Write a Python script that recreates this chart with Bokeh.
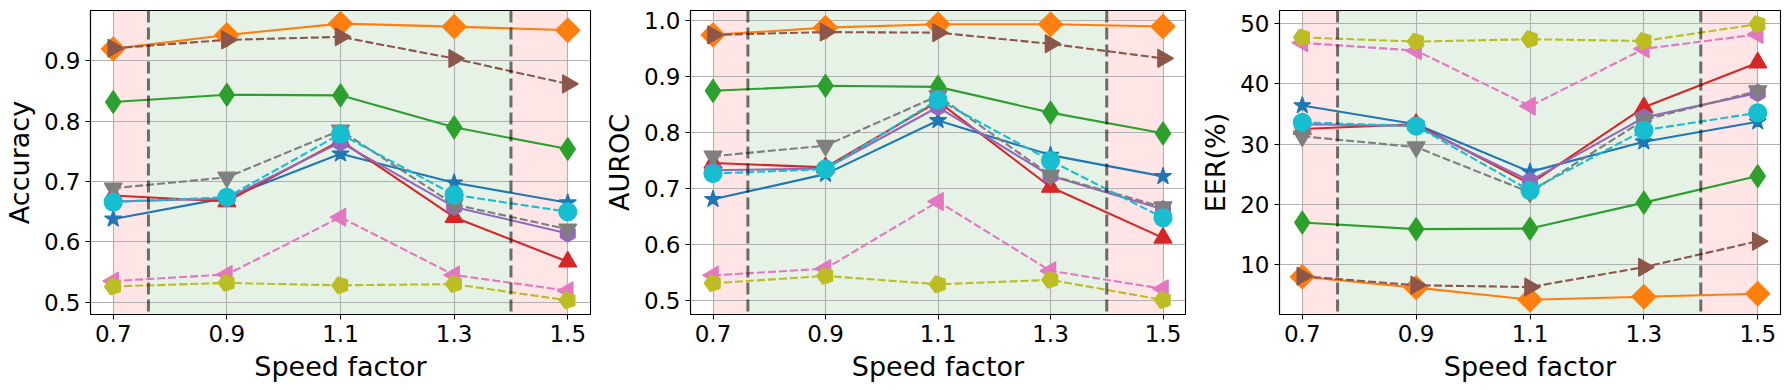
import math
from bokeh.plotting import figure
from bokeh.layouts import row
from bokeh.models import Range1d, FixedTicker, BoxAnnotation, Span, PrintfTickFormatter
from bokeh.embed import file_html
from bokeh.resources import INLINE

# ---------------- data ----------------
speed = [0.7, 0.9, 1.1, 1.3, 1.5]
x_ticks = [0.7, 0.9, 1.1, 1.3, 1.5]

acc_blue = [0.638, 0.673, 0.746, 0.698, 0.665]
acc_orange = [0.920, 0.943, 0.962, 0.957, 0.951]
acc_green = [0.832, 0.844, 0.843, 0.790, 0.754]
acc_red = [0.677, 0.667, 0.768, 0.641, 0.567]
acc_purple = [0.667, 0.672, 0.765, 0.658, 0.614]
acc_brown = [0.921, 0.935, 0.940, 0.904, 0.862]
acc_pink = [0.535, 0.546, 0.641, 0.545, 0.519]
acc_gray = [0.689, 0.707, 0.785, 0.662, 0.621]
acc_olive = [0.526, 0.532, 0.528, 0.530, 0.503]
acc_cyan = [0.666, 0.674, 0.779, 0.678, 0.650]

auc_blue = [0.681, 0.726, 0.822, 0.760, 0.722]
auc_orange = [0.975, 0.988, 0.994, 0.994, 0.990]
auc_green = [0.875, 0.884, 0.882, 0.836, 0.799]
auc_red = [0.746, 0.738, 0.856, 0.703, 0.612]
auc_purple = [0.733, 0.736, 0.846, 0.723, 0.663]
auc_brown = [0.975, 0.980, 0.979, 0.959, 0.933]
auc_pink = [0.545, 0.557, 0.677, 0.553, 0.521]
auc_gray = [0.758, 0.777, 0.866, 0.724, 0.667]
auc_olive = [0.531, 0.544, 0.529, 0.537, 0.501]
auc_cyan = [0.727, 0.735, 0.859, 0.750, 0.648]

eer_blue = [36.4, 33.3, 25.4, 30.4, 33.7]
eer_orange = [8.0, 6.2, 4.2, 4.7, 5.2]
eer_green = [17.0, 15.9, 16.0, 20.3, 24.7]
eer_red = [32.5, 33.3, 23.4, 36.1, 43.5]
eer_purple = [33.3, 33.0, 23.9, 34.4, 38.5]
eer_brown = [8.1, 6.6, 6.3, 9.6, 13.9]
eer_pink = [46.8, 45.5, 36.3, 45.8, 48.2]
eer_gray = [31.3, 29.5, 22.0, 34.0, 38.8]
eer_olive = [47.7, 47.0, 47.4, 47.1, 49.9]
eer_cyan = [33.6, 33.0, 22.3, 32.3, 35.2]

acc_ticks = [0.5, 0.6, 0.7, 0.8, 0.9]
auc_ticks = [0.5, 0.6, 0.7, 0.8, 0.9, 1.0]
eer_ticks = [10, 20, 30, 40, 50]

# region boundaries (speed factor)
red_left = (0.7, 0.762)
green_mid = (0.762, 1.4)
red_right = (1.4, 1.5)
boundaries = [0.762, 1.4]

# ---------------- styles ----------------
FONT = "DejaVu Sans"
styles = [
    # key, color, marker, size, angle, dashed
    ("blue", "#1f77b4", "star", 18, 0.0, False),
    ("orange", "#ff7f0e", "square", 17, math.pi / 4, False),
    ("green", "#2ca02c", "diamond", 23, 0.0, False),
    ("red", "#d62728", "triangle", 18, 0.0, False),
    ("purple", "#9467bd", "hex", 17, math.pi / 2, False),
    ("brown", "#8c564b", "triangle", 18, -math.pi / 2, True),
    ("pink", "#e377c2", "triangle", 18, math.pi / 2, True),
    ("gray", "#7f7f7f", "inverted_triangle", 18, 0.0, True),
    ("olive", "#bcbd22", "pentagon", 8.8, 0.0, True),
    ("cyan", "#17becf", "circle", 18, 0.0, True),
]

panels = [
    ("Accuracy", (0.4796, 0.9837), acc_ticks, "%.1f",
     dict(blue=acc_blue, orange=acc_orange, green=acc_green, red=acc_red, purple=acc_purple,
          brown=acc_brown, pink=acc_pink, gray=acc_gray, olive=acc_olive, cyan=acc_cyan),
     600, 89, 10),
    ("AUROC", (0.475, 1.0186), auc_ticks, "%.1f",
     dict(blue=auc_blue, orange=auc_orange, green=auc_green, red=auc_red, purple=auc_purple,
          brown=auc_brown, pink=auc_pink, gray=auc_gray, olive=auc_olive, cyan=auc_cyan),
     595, 84, 10),
    ("EER(%)", (1.75, 52.16), eer_ticks, "%d",
     dict(blue=eer_blue, orange=eer_orange, green=eer_green, red=eer_red, purple=eer_purple,
          brown=eer_brown, pink=eer_pink, gray=eer_gray, olive=eer_olive, cyan=eer_cyan),
     595, 84, 10),
]

figs = []
for ylabel, yr, yticks, yfmt, data, width, mleft, mright in panels:
    p = figure(width=width, height=390, x_range=Range1d(0.66, 1.54), y_range=Range1d(*yr),
               output_backend="svg", toolbar_location=None,
               min_border_left=mleft, min_border_right=mright,
               min_border_top=10, min_border_bottom=76)
    p.background_fill_color = "white"
    p.border_fill_color = "white"
    p.outline_line_color = "black"
    p.outline_line_width = 1.1
    p.outline_line_alpha = 1.0

    for ax in (p.xaxis[0], p.yaxis[0]):
        ax.major_label_text_font = FONT
        ax.major_label_text_font_size = "23px"
        ax.major_label_text_color = "black"
        ax.axis_label_text_font = FONT
        ax.axis_label_text_font_size = "27px"
        ax.axis_label_text_font_style = "normal"
        ax.axis_label_text_color = "black"
        ax.major_tick_in = 0
        ax.major_tick_out = 5
        ax.major_tick_line_color = "black"
        ax.major_tick_line_width = 1.1
        ax.minor_tick_line_color = None
        ax.axis_line_color = "black"
        ax.axis_line_width = 1.1
        ax.major_label_standoff = 5
        ax.axis_label_standoff = 6
    p.xaxis.ticker = FixedTicker(ticks=x_ticks)
    p.yaxis.ticker = FixedTicker(ticks=yticks)
    p.xaxis.formatter = PrintfTickFormatter(format="%.1f")
    p.yaxis.formatter = PrintfTickFormatter(format=yfmt)
    p.xaxis.axis_label = "Speed factor"
    p.yaxis.axis_label = ylabel

    p.xgrid.grid_line_color = "#b0b0b0"
    p.ygrid.grid_line_color = "#b0b0b0"
    p.xgrid.grid_line_width = 1.1
    p.ygrid.grid_line_width = 1.1

    for (l, r), col in ((red_left, "red"), (green_mid, "green"), (red_right, "red")):
        p.add_layout(BoxAnnotation(left=l, right=r, fill_color=col, fill_alpha=0.1,
                                   line_color=None, level="image"))

    for key, color, marker, size, angle, dashed in styles:
        ys = data[key]
        p.line(speed, ys, line_color=color, line_width=2.1,
               line_dash="8 3" if dashed else "solid")
        if marker == "pentagon":
            try:
                p.ngon(x=speed, y=ys, radius=size, radius_units="screen", n=5,
                       angle=math.pi / 2, fill_color=color, line_color=color, line_width=1.2)
            except Exception:
                p.scatter(speed, ys, marker="hex", size=17, fill_color=color,
                          line_color=color)
        else:
            p.scatter(speed, ys, marker=marker, size=size, angle=angle,
                      fill_color=color, line_color=color, line_width=1.2)

    for b in boundaries:
        p.add_layout(Span(location=b, dimension="height", line_color="black",
                          line_alpha=0.55, line_width=3, line_dash="12 5"))
    figs.append(p)

layout = row(*figs)
open("out.html", "w").write(file_html(layout, INLINE))
